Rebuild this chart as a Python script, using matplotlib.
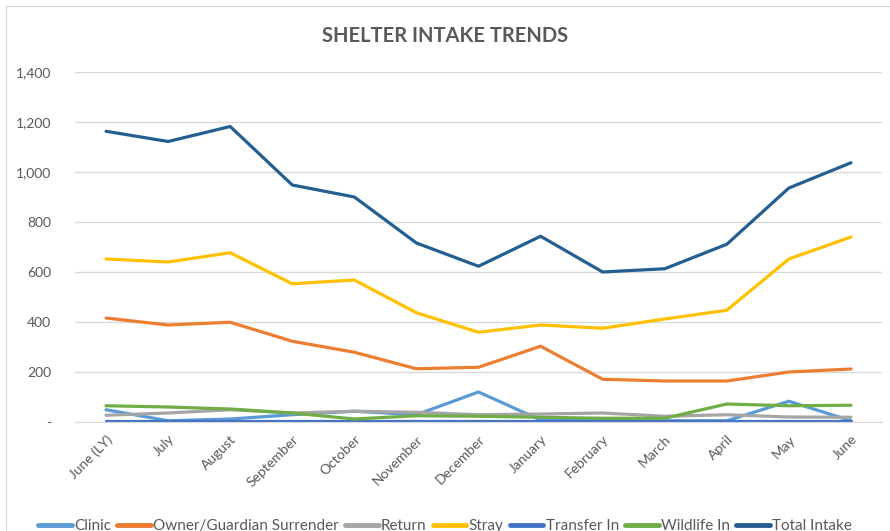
import matplotlib.pyplot as plt
from matplotlib.patches import Rectangle
from matplotlib.ticker import FuncFormatter

months = ['June (LY)', 'July', 'August', 'September', 'October', 'November',
          'December', 'January', 'February', 'March', 'April', 'May', 'June']

clinic = [49, 5, 12, 29, 43, 29, 120, 8, 12, 5, 5, 83, 5]
owner_surrender = [416, 388, 399, 323, 279, 213, 219, 303, 171, 164, 164, 200, 212]
return_ = [27, 36, 49, 36, 43, 39, 29, 32, 36, 23, 29, 20, 19]
stray = [652, 640, 677, 553, 568, 437, 359, 388, 375, 412, 447, 652, 740]
transfer_in = [3, 3, 3, 3, 3, 3, 3, 3, 3, 3, 3, 3, 3]
wildlife_in = [65, 60, 52, 36, 12, 25, 23, 19, 15, 15, 72, 65, 67]
total_intake = [1163, 1122, 1182, 948, 900, 716, 623, 743, 600, 613, 711, 936, 1037]

plt.rcParams['font.family'] = ['Lato', 'DejaVu Sans']

fig = plt.figure(figsize=(8.9, 5.31), dpi=100)
ax = fig.add_axes([75 / 890, 1 - 422 / 531, 807 / 890, 350 / 531])

# chart border (Excel chart area)
fig.patches.append(Rectangle((6 / 890, -0.1), 2, 1 - 6 / 531 + 0.1,
                             transform=fig.transFigure, fill=False,
                             edgecolor='#D9D9D9', linewidth=1))

series = [
    ('Clinic', clinic, '#5B9BD5'),
    ('Owner/Guardian Surrender', owner_surrender, '#ED7D31'),
    ('Return', return_, '#A5A5A5'),
    ('Stray', stray, '#FFC000'),
    ('Transfer In', transfer_in, '#4472C4'),
    ('Wildlife In', wildlife_in, '#70AD47'),
    ('Total Intake', total_intake, '#255E91'),
]
x = range(len(months))
for name, vals, col in series:
    ax.plot(x, vals, color=col, linewidth=2.3, label=name, solid_capstyle='round')

ax.set_xlim(-0.5, len(months) - 0.5)
ax.set_ylim(0, 1400)
ax.set_yticks(range(0, 1401, 200))
ax.yaxis.set_major_formatter(FuncFormatter(lambda v, p: '-' if v == 0 else f'{int(v):,}'))
ax.grid(axis='y', color='#D9D9D9', linewidth=1)
ax.set_axisbelow(True)
for s in ['top', 'right', 'left']:
    ax.spines[s].set_visible(False)
ax.spines['bottom'].set_color('#D9D9D9')
ax.tick_params(length=0, colors='#595959', labelsize=10)
ax.tick_params(axis='y', pad=17)
ax.set_xticks(list(x))
ax.set_xticklabels(months, rotation=45, ha='right', rotation_mode='anchor')
ax.tick_params(axis='x', pad=8)

fig.text(0.5, 1 - 36 / 531, 'SHELTER INTAKE TRENDS', ha='center', va='center',
         fontsize=14.5, fontweight='bold', color='#595959')

# legend sits partly below the bottom edge, as in the reference crop
leg = fig.legend(loc='center', bbox_to_anchor=(0.5, 1 - 526 / 531), ncol=7, frameon=False,
                 fontsize=11, handlelength=2.2, columnspacing=0.4, handletextpad=0.15,
                 labelcolor='#595959')
for h in leg.get_lines():
    h.set_linewidth(3.5)

fig.savefig('out.png', dpi=100)
